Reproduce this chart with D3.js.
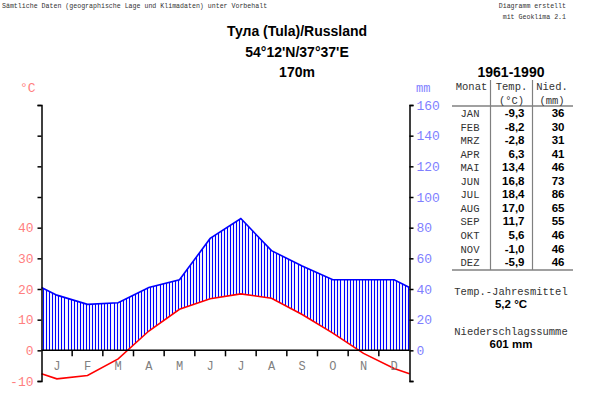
<!DOCTYPE html>
<html>
<head>
<meta charset="utf-8">
<script src="https://cdn.jsdelivr.net/npm/d3@7"></script>
<style>
  body { margin: 0; background: #fff; }
  svg { display: block; }
</style>
</head>
<body>
<div id="chart"></div>
<script>
// Klimadaten Tula 1961-1990
var months = ["JAN", "FEB", "MRZ", "APR", "MAI", "JUN", "JUL", "AUG", "SEP", "OKT", "NOV", "DEZ"];
var monthLetters = ["J", "F", "M", "A", "M", "J", "J", "A", "S", "O", "N", "D"];
var temp = [-9.3, -8.2, -2.8, 6.3, 13.4, 16.8, 18.4, 17.0, 11.7, 5.6, -1.0, -5.9];
var prec = [36, 30, 31, 41, 46, 73, 86, 65, 55, 46, 46, 46];
var tempTicks = [-10, 0, 10, 20, 30, 40];
var precTicks = [0, 20, 40, 60, 80, 100, 120, 140, 160];
var tempMean = "5,2 °C";
var precSum = "601 mm";

var W = 590, H = 404;
var mono = "'Liberation Mono', 'DejaVu Sans Mono', monospace";
var sans = "'Liberation Sans', Arial, sans-serif";

var svg = d3.select("#chart").append("svg")
    .attr("width", W)
    .attr("height", H);

// Scales: 10 °C = 20 mm
var x = d3.scaleLinear().domain([0, 12]).range([41.5, 409.5]);
var yT = d3.scaleLinear().domain([-10, 80]).range([381, 105]);
var yP = d3.scaleLinear().domain([-20, 160]).range([381, 105]);

// Points at month centres, ends joined through Dec/Jan mean
function withEnds(arr) {
    var edge = (arr[0] + arr[11]) / 2;
    var pts = [[0, edge]];
    arr.forEach(function (v, i) { pts.push([i + 0.5, v]); });
    pts.push([12, edge]);
    return pts;
}
var tPts = withEnds(temp);
var pPts = withEnds(prec);

// Header notes
svg.append("text")
    .attr("x", 2).attr("y", 8)
    .style("font-family", mono).style("font-size", "6.6px")
    .attr("fill", "#333")
    .text("Sämtliche Daten (geographische Lage und Klimadaten) unter Vorbehalt");
svg.append("text")
    .attr("x", 566).attr("y", 8).attr("text-anchor", "end")
    .style("font-family", mono).style("font-size", "6.6px")
    .attr("fill", "#333")
    .text("Diagramm erstellt");
svg.append("text")
    .attr("x", 566).attr("y", 19).attr("text-anchor", "end")
    .style("font-family", mono).style("font-size", "6.6px")
    .attr("fill", "#333")
    .text("mit Geoklima 2.1");

// Title
var titles = ["Тула (Tula)/Russland", "54°12'N/37°37'E", "170m"];
titles.forEach(function (t, i) {
    svg.append("text")
        .attr("x", 297).attr("y", 36 + i * 20.5)
        .attr("text-anchor", "middle")
        .style("font-family", sans).style("font-size", "14px").style("font-weight", "bold")
        .text(t);
});

// Hatching between precipitation and temperature (not below 0)
var clipArea = d3.area()
    .x(function (d, i) { return x(d[0]); })
    .y0(function (d, i) { return yP(pPts[i][1]); })
    .y1(function (d) { return yT(d[1]); });

svg.append("clipPath").attr("id", "humid")
    .append("path").datum(tPts).attr("d", clipArea);

var step = (x(1) - x(0)) / 10;
var hatchX = d3.range(x(0) + step / 2, x(12), step);
svg.append("g")
    .attr("clip-path", "url(#humid)")
    .selectAll("line")
    .data(hatchX)
    .enter().append("line")
    .attr("x1", function (d) { return Math.round(d) + 0.5; })
    .attr("x2", function (d) { return Math.round(d) + 0.5; })
    .attr("y1", yP(160))
    .attr("y2", yT(0))
    .attr("stroke", "#0000ff")
    .attr("stroke-width", 1.1);

// Lines
var lineP = d3.line().x(function (d) { return x(d[0]); }).y(function (d) { return yP(d[1]); });
var lineT = d3.line().x(function (d) { return x(d[0]); }).y(function (d) { return yT(d[1]); });

svg.append("path").datum(pPts)
    .attr("d", lineP)
    .attr("fill", "none")
    .attr("stroke", "#0000ff")
    .attr("stroke-width", 1.6);

svg.append("path").datum(tPts)
    .attr("d", lineT)
    .attr("fill", "none")
    .attr("stroke", "#ff0000")
    .attr("stroke-width", 1.6);

// Left axis (temperature)
var leftAxis = d3.axisLeft(yT)
    .tickValues(d3.range(-10, 81, 10))
    .tickSize(4)
    .tickFormat(function (d) { return tempTicks.indexOf(d) >= 0 ? d : ""; });
var gL = svg.append("g")
    .attr("transform", "translate(" + x(0) + ",0)")
    .call(leftAxis);
gL.select(".domain").attr("stroke", "#000").attr("stroke-width", 1.5);
gL.selectAll(".tick line").attr("stroke", "#000").attr("stroke-width", 1.5);
gL.selectAll(".tick text")
    .attr("fill", "#ff7f7f")
    .attr("x", -8)
    .style("font-family", mono).style("font-size", "13px");

// Right axis (precipitation)
var rightAxis = d3.axisRight(yP)
    .tickValues(d3.range(-20, 161, 20))
    .tickSize(4)
    .tickFormat(function (d) { return precTicks.indexOf(d) >= 0 ? d : ""; });
var gR = svg.append("g")
    .attr("transform", "translate(" + x(12) + ",0)")
    .call(rightAxis);
gR.select(".domain").attr("stroke", "#000").attr("stroke-width", 1.5);
gR.selectAll(".tick line").attr("stroke", "#000").attr("stroke-width", 1.5);
gR.selectAll(".tick text")
    .attr("fill", "#7f7fff")
    .attr("x", 7)
    .style("font-family", mono).style("font-size", "13px");

// Unit labels
svg.append("text").attr("x", 20).attr("y", 92)
    .style("font-family", mono).style("font-size", "13px")
    .attr("fill", "#ff7f7f").text("°C");
svg.append("text").attr("x", 416).attr("y", 92)
    .style("font-family", mono).style("font-size", "12px")
    .attr("fill", "#7f7fff").text("mm");

// Zero line with month ticks
svg.append("line")
    .attr("x1", x(0)).attr("x2", x(12))
    .attr("y1", yT(0)).attr("y2", yT(0))
    .attr("stroke", "#000").attr("stroke-width", 1.5);

svg.append("g").selectAll("line")
    .data(d3.range(1, 12))
    .enter().append("line")
    .attr("x1", function (d) { return x(d); })
    .attr("x2", function (d) { return x(d); })
    .attr("y1", yT(0)).attr("y2", yT(0) + 6)
    .attr("stroke", "#000").attr("stroke-width", 1.5);

svg.append("g").selectAll("text")
    .data(monthLetters)
    .enter().append("text")
    .attr("x", function (d, i) { return x(i + 0.5); })
    .attr("y", yT(0) + 20)
    .attr("text-anchor", "middle")
    .style("font-family", mono).style("font-size", "12px")
    .attr("fill", "#808080")
    .text(function (d) { return d; });

// Table
svg.append("text")
    .attr("x", 511).attr("y", 77)
    .attr("text-anchor", "middle")
    .style("font-family", sans).style("font-size", "14px").style("font-weight", "bold")
    .text("1961-1990");

var tbl = svg.append("g");
tbl.append("line").attr("x1", 452).attr("x2", 573).attr("y1", 106).attr("y2", 106)
    .attr("stroke", "#808080").attr("stroke-width", 1.5);
tbl.append("line").attr("x1", 452).attr("x2", 573).attr("y1", 270).attr("y2", 270)
    .attr("stroke", "#808080").attr("stroke-width", 1.5);
[490.5, 532.5].forEach(function (vx) {
    tbl.append("line").attr("x1", vx).attr("x2", vx).attr("y1", 80).attr("y2", 270)
        .attr("stroke", "#808080").attr("stroke-width", 1.2);
});

var hdr = [["Monat", 471.5, 90], ["Temp.", 511.5, 90], ["(°C)", 511.5, 104], ["Nied.", 552, 90], ["(mm)", 552, 104]];
hdr.forEach(function (h) {
    tbl.append("text")
        .attr("x", h[1]).attr("y", h[2])
        .attr("text-anchor", "middle")
        .style("font-family", mono).style("font-size", "10.5px")
        .attr("fill", "#333")
        .text(h[0]);
});

var rowY = function (i) { return 117 + i * 13.55; };
months.forEach(function (m, i) {
    tbl.append("text")
        .attr("x", 470).attr("y", rowY(i))
        .attr("text-anchor", "middle")
        .style("font-family", mono).style("font-size", "10.5px")
        .attr("fill", "#333")
        .text(m);
    tbl.append("text")
        .attr("x", 524.5).attr("y", rowY(i))
        .attr("text-anchor", "end")
        .style("font-family", sans).style("font-size", "11.5px").style("font-weight", "bold")
        .text(temp[i].toFixed(1).replace(".", ","));
    tbl.append("text")
        .attr("x", 564.5).attr("y", rowY(i))
        .attr("text-anchor", "end")
        .style("font-family", sans).style("font-size", "11.5px").style("font-weight", "bold")
        .text(prec[i]);
});

// Summary
var summary = [
    ["Temp.-Jahresmittel", 295, mono, "normal", "10.5px"],
    [tempMean, 308, sans, "bold", "11.5px"],
    ["Niederschlagssumme", 335, mono, "normal", "10.5px"],
    [precSum, 348, sans, "bold", "11.5px"]
];
summary.forEach(function (s) {
    svg.append("text")
        .attr("x", 511).attr("y", s[1])
        .attr("text-anchor", "middle")
        .style("font-family", s[2]).style("font-weight", s[3]).style("font-size", s[4])
        .attr("fill", s[3] === "bold" ? "#000" : "#333")
        .text(s[0]);
});
</script>
</body>
</html>
